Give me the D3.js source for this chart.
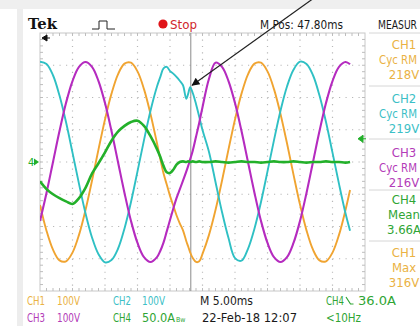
<!DOCTYPE html>
<html>
<head>
<meta charset="utf-8">
<script src="https://cdn.jsdelivr.net/npm/d3@7"></script>
<style>
  html, body { margin: 0; padding: 0; background: #fff; }
  svg { display: block; }
</style>
</head>
<body>
<svg id="chart"></svg>
<script>
// sample times (ms from left edge of the record)
const times = [0, 1, 2, 3, 4, 5, 6, 7, 8, 9, 10, 11, 12, 13, 14, 15, 16, 17, 18,
  18.5, 19, 19.5, 20, 20.5, 21, 21.5, 22, 22.5, 22.8, 23.1, 23.5, 24, 24.5, 25,
  26, 27, 28, 29, 30, 31, 32, 33, 34, 35, 36, 37, 38, 39, 40, 41, 42, 43, 44, 45, 46, 47, 47.7]

// CH1 volts (orange)
const ch1 = [-133, -213, -272, -305, -308, -281, -226, -149, -58, 39, 132, 212, 272, 305, 308, 281, 226, 149, 58,
  10, -35, -70, -105, -135, -165, -190, -212, -245, -262, -280, -298, -310, -308, -285,
  -226, -149, -58, 39, 132, 212, 272, 305, 308, 281, 226, 149, 58, -39, -132, -212, -272, -305, -308, -281, -226, -149, -87]

// CH2 volts (cyan)
const ch2 = [311, 304, 269, 206, 124, 29, -68, -159, -234, -286, -311, -304, -269, -206, -124, -29, 68, 159, 234,
  263, 290, 295, 282, 274, 264, 252, 238, 196, 212, 232, 214, 180, 140, 99,
  31, -62, -155, -236, -298, -306, -269, -206, -124, -29, 68, 159, 234, 286, 311, 304, 269, 206, 124, 29, -68, -159, -213]

// CH3 volts (magenta)
const ch3 = [-183, -96, 0, 96, 183, 251, 295, 310, 295, 251, 183, 96, 0, -96, -183, -251, -295, -310, -295,
  -276, -250, -215, -180, -145, -112, -85, -58, -30, -12, 8, 35, 78, 122, 170,
  258, 308, 295, 251, 183, 96, 0, -96, -183, -251, -295, -310, -295, -251, -183, -96, 0, 96, 183, 251, 295, 310, 303]

// CH4 amps (green)
const ch4 = [-30, -42, -50, -56, -61, -65, -56, -40, -18, -2, 15, 33, 47, 56, 62, 64, 56, 40, 20,
  8, -6, -16, -17, -12, -4, 0, 1, 0, 1, 0, 1, 0, 1, 0,
  0, 1, 0, -1, 0, 1, 0, 0, -1, 0, 1, 0, 0, 1, 0, -1, 0, 0, 1, 0, 0, -1, 0]

const chanNames = ['CH1', 'CH2', 'CH3', 'CH4']
const chanScales = ['100V', '100V', '100V', '50.0A']
// right-hand readouts as shown on screen (the panel cuts off the long words)
const measures = [
  ['CH1', 'Cyc RM', '218V'],
  ['CH2', 'Cyc RM', '219V'],
  ['CH3', 'Cyc RM', '216V'],
  ['CH4', 'Mean', '3.66A'],
  ['CH1', 'Max', '316V']
]
const measureChan = [0, 1, 2, 3, 0]
const header = { pos: 'M Pos: 47.80ms', state: 'Stop', panel: 'MEASUR' }
const footer = { timebase: 'M 5.00ms', date: '22-Feb-18 12:07', trig: '36.0A', freq: '<10Hz' }

const colors = ['#f0a431', '#2fc0c4', '#b52bbf', '#23b02a']
const textColors = ['#eab244', '#3cc0c6', '#b33bb8', '#2fa534']
const font = "'DejaVu Sans Condensed', 'Liberation Sans Narrow', 'Liberation Sans', sans-serif"

const W = 420
const H = 326
const grid = { left: 40, right: 365, top: 33, bottom: 291 }

const x = d3.scaleLinear().domain([0, 50]).range([grid.left, grid.right])
const yV = d3.scaleLinear().domain([-400, 400]).range([grid.bottom, grid.top])
const yA = d3.scaleLinear().domain([-200, 200]).range([grid.bottom, grid.top])

const svg = d3.select('#chart').attr('width', W).attr('height', H)

// text helper, optional fixed width to mimic the scope's narrow font
const label = (tx, ty, str, col, size, width, anchor) => {
  const t = svg.append('text')
    .attr('x', tx).attr('y', ty)
    .attr('font-family', font).attr('font-size', size)
    .attr('fill', col)
    .attr('text-anchor', anchor || 'start')
    .text(str)
  if (width) t.attr('textLength', width).attr('lengthAdjust', 'spacingAndGlyphs')
  return t
}

// screen frame
svg.append('rect').attr('width', W).attr('height', H).attr('fill', '#fff')
svg.append('rect').attr('width', W).attr('height', 9).attr('fill', '#efefef')
svg.append('rect').attr('x', 17).attr('y', 9).attr('width', 6).attr('height', H).attr('fill', '#ededed')

// graticule
const g = svg.append('g')
g.selectAll('.vgrid')
  .data(d3.range(5, 50, 5))
  .join('line')
  .attr('x1', (d) => x(d))
  .attr('x2', (d) => x(d))
  .attr('y1', grid.top)
  .attr('y2', grid.bottom)
  .attr('stroke', '#b8b8b8')
  .attr('stroke-width', 1.2)
  .attr('stroke-dasharray', '1.2,5.25')

g.selectAll('.hgrid')
  .data(d3.range(-300, 400, 100))
  .join('line')
  .attr('x1', grid.left)
  .attr('x2', grid.right)
  .attr('y1', (d) => yV(d))
  .attr('y2', (d) => yV(d))
  .attr('stroke', '#b8b8b8')
  .attr('stroke-width', 1.2)
  .attr('stroke-dasharray', '1.2,5.3')

g.append('rect')
  .attr('x', grid.left)
  .attr('y', grid.top)
  .attr('width', grid.right - grid.left)
  .attr('height', grid.bottom - grid.top)
  .attr('fill', 'none')
  .attr('stroke', '#c8c8c8')

// minor ticks on the frame edges
const minorX = d3.range(1, 50, 1)
g.selectAll('.tt')
  .data(minorX)
  .join('line')
  .attr('x1', (d) => x(d))
  .attr('x2', (d) => x(d))
  .attr('y1', grid.top)
  .attr('y2', grid.top + 3)
  .attr('stroke', '#bdbdbd')
g.selectAll('.bt')
  .data(minorX)
  .join('line')
  .attr('x1', (d) => x(d))
  .attr('x2', (d) => x(d))
  .attr('y1', grid.bottom - 3)
  .attr('y2', grid.bottom)
  .attr('stroke', '#bdbdbd')
const minorY = d3.range(-380, 400, 20)
g.selectAll('.lt')
  .data(minorY)
  .join('line')
  .attr('x1', grid.left)
  .attr('x2', grid.left + 3)
  .attr('y1', (d) => yV(d))
  .attr('y2', (d) => yV(d))
  .attr('stroke', '#bdbdbd')
g.selectAll('.rt')
  .data(minorY)
  .join('line')
  .attr('x1', grid.right - 3)
  .attr('x2', grid.right)
  .attr('y1', (d) => yV(d))
  .attr('y2', (d) => yV(d))
  .attr('stroke', '#bdbdbd')

// trigger position line
const trigT = 23.2
svg.append('line')
  .attr('x1', x(trigT))
  .attr('x2', x(trigT))
  .attr('y1', grid.top)
  .attr('y2', grid.bottom)
  .attr('stroke', '#8a8a8a')
  .attr('stroke-width', 1)

// traces
svg.append('clipPath').attr('id', 'clip')
  .append('rect')
  .attr('x', grid.left)
  .attr('y', grid.top)
  .attr('width', grid.right - grid.left)
  .attr('height', grid.bottom - grid.top)

const series = [
  { vals: ch1, y: yV, w: 1.9 },
  { vals: ch2, y: yV, w: 1.9 },
  { vals: ch3, y: yV, w: 2.1 },
  { vals: ch4, y: yA, w: 2.6 }
]
const traces = svg.append('g').attr('clip-path', 'url(#clip)')
series.forEach((s, i) => {
  const line = d3.line()
    .x((d, j) => x(times[j]))
    .y((d) => s.y(d))
    .curve(d3.curveCatmullRom.alpha(0.5))
  traces.append('path')
    .datum(s.vals)
    .attr('fill', 'none')
    .attr('stroke', colors[i])
    .attr('stroke-width', s.w)
    .attr('stroke-linejoin', 'round')
    .attr('d', line)
})

// markers: horizontal position, CH4 ground, trigger level
svg.append('path')
  .attr('d', `M${grid.left + 2},${grid.top + 5} l5,-3 v6 z M${grid.left + 6},${grid.top + 5} h4`)
  .attr('fill', '#111').attr('stroke', '#111').attr('stroke-width', 1)
label(28, yA(0) + 4, '4', colors[3], 11)
svg.append('path')
  .attr('d', `M${grid.left - 1},${yA(0)} l-5,-3.5 v7 z`)
  .attr('fill', colors[3])
svg.append('path')
  .attr('d', `M${grid.right - 7},${yA(36)} l5,-3.5 v7 z M${grid.right - 3},${yA(36)} h4`)
  .attr('fill', colors[3]).attr('stroke', colors[3]).attr('stroke-width', 1)

// header
svg.append('text')
  .attr('x', 28).attr('y', 29)
  .attr('font-family', "'DejaVu Serif', serif").attr('font-weight', 'bold')
  .attr('font-size', 15).attr('textLength', 29).attr('lengthAdjust', 'spacingAndGlyphs')
  .attr('fill', '#111')
  .text('Tek')
svg.append('path')
  .attr('d', 'M92,29 H99 V21 H107 V29 H115')
  .attr('fill', 'none').attr('stroke', '#222').attr('stroke-width', 1)
svg.append('circle').attr('cx', 163).attr('cy', 24).attr('r', 4.6).attr('fill', '#e0141a')
label(170, 28.5, header.state, '#d0262c', 12.5, 27)
label(260, 28.5, header.pos, '#1a1a1a', 12.5, 83)
label(417, 28.5, header.panel, '#1a1a1a', 11.5, 39, 'end')

// measurement panel
const blockY = [44, 98, 152, 199, 252]
const sepY = [33, 86, 139, 190, 241]
svg.selectAll('.sep')
  .data(sepY)
  .join('line')
  .attr('x1', 369).attr('x2', W)
  .attr('y1', (d) => d).attr('y2', (d) => d)
  .attr('stroke', '#d6d6d6')
measures.forEach((m, i) => {
  m.forEach((t, k) => {
    const ty = blockY[i] + k * 15 + 4.5
    const col = textColors[measureChan[i]]
    if (t === 'Cyc RM') label(417, ty, t, col, 12, 38, 'end')
    else label(404, ty, t, col, 13, null, 'middle')
  })
})

// footer settings
const row1 = 305
const row2 = 322
label(27, row1, chanNames[0], textColors[0], 12, 18)
label(57, row1, chanScales[0], textColors[0], 12, 23)
label(113, row1, chanNames[1], textColors[1], 12, 18)
label(142, row1, chanScales[1], textColors[1], 12, 23)
label(27, row2, chanNames[2], textColors[2], 12, 18)
label(57, row2, chanScales[2], textColors[2], 12, 23)
label(113, row2, chanNames[3], textColors[3], 12, 18)
label(142, row2, chanScales[3], textColors[3], 12, 33)
label(176, row2, 'Bw', textColors[3], 7)
label(200, row1, footer.timebase, '#1a1a1a', 12, 53)
label(202, row2, footer.date, '#1a1a1a', 12, 95)
label(326, row1, chanNames[3], textColors[3], 12, 18)
svg.append('path')
  .attr('d', 'M346,297 L350.5,304 H353.5')
  .attr('fill', 'none').attr('stroke', textColors[3]).attr('stroke-width', 1.2)
label(358, row1, footer.trig, textColors[3], 12, 38)
label(326, row2, footer.freq, textColors[3], 12, 35)

// annotation arrow pointing at the CH2 notch
svg.append('defs').append('marker')
  .attr('id', 'head')
  .attr('viewBox', '0 0 10 10')
  .attr('refX', 9).attr('refY', 5)
  .attr('markerWidth', 10).attr('markerHeight', 8)
  .attr('markerUnits', 'userSpaceOnUse')
  .attr('orient', 'auto')
  .append('path')
  .attr('d', 'M0,0 L10,5 L0,10 z')
  .attr('fill', '#111')
svg.append('line')
  .attr('x1', 314).attr('y1', -2)
  .attr('x2', x(23.1) + 2).attr('y2', yV(232) - 2)
  .attr('stroke', '#222').attr('stroke-width', 1.2)
  .attr('marker-end', 'url(#head)')
</script>
</body>
</html>
